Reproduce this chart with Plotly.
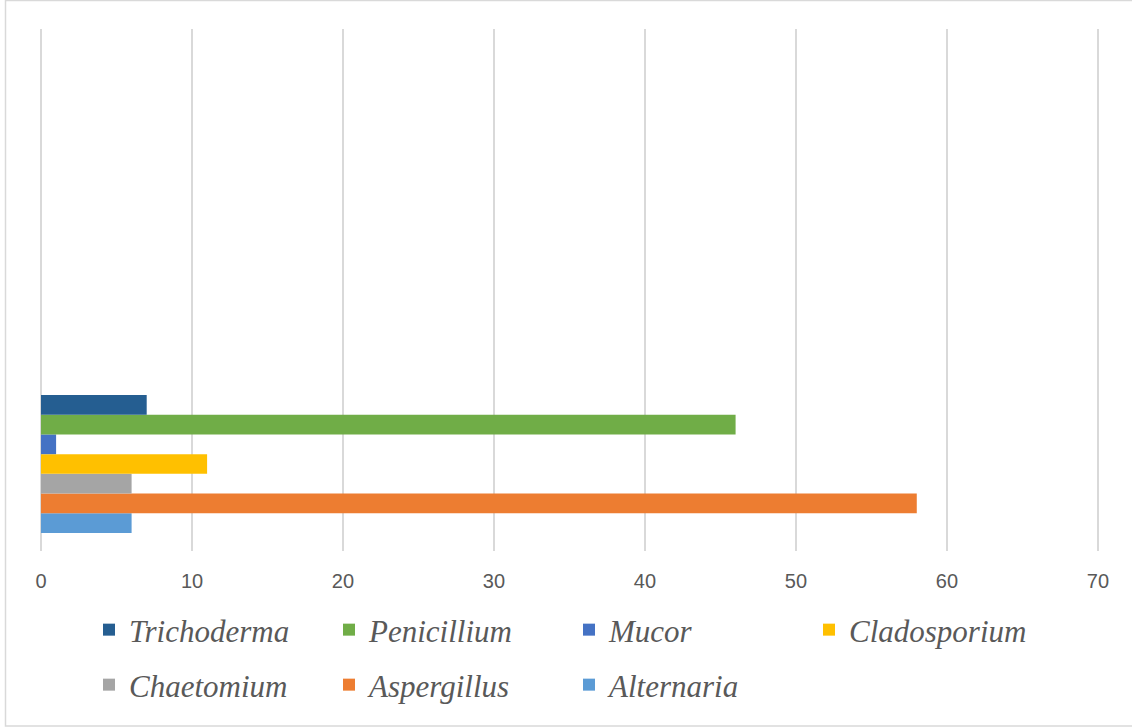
import plotly.graph_objects as go

# Genera isolated and their counts
genera = ["Trichoderma", "Penicillium", "Mucor", "Cladosporium",
          "Chaetomium", "Aspergillus", "Alternaria"]
counts = [7, 46, 1, 11, 6, 58, 6]
colors = ["#255e91", "#70ad47", "#4472c4", "#ffc000",
          "#a5a5a5", "#ed7d31", "#5b9bd5"]
# first legend row holds the first four genera, second row the rest
legend_rows = ["legend", "legend", "legend", "legend",
               "legend2", "legend2", "legend2"]
x_ticks = [0, 10, 20, 30, 40, 50, 60, 70]

W, H = 1132, 727
X_MAX = 70.2           # a touch past 70 so the last gridline is kept
M_L, M_R, M_T, M_B = 41, 31, 29, 176

fig = go.Figure()
# plotly stacks grouped horizontal bars bottom-up, so add them in reverse
for i in reversed(range(len(genera))):
    fig.add_trace(go.Bar(
        y=[0], x=[counts[i]], orientation="h",
        name="<i>" + genera[i] + "</i>",
        marker=dict(color=colors[i], line=dict(width=0)),
        legend=legend_rows[i], legendrank=i + 1,
        hoverinfo="x+name",
    ))

legend_font = dict(family="Liberation Serif", size=31, color="#595959")
common_legend = dict(
    orientation="h", xref="container", yref="container",
    xanchor="left", yanchor="middle", font=legend_font,
    entrywidth=195, entrywidthmode="pixels",
    bgcolor="rgba(0,0,0,0)", traceorder="normal",
)

fig.update_layout(
    width=W, height=H,
    margin=dict(l=M_L, r=M_R, t=M_T, b=M_B, pad=0),
    paper_bgcolor="white", plot_bgcolor="white",
    barmode="group", bargap=0.207, bargroupgap=0,
    showlegend=True,
    legend=dict(x=89 / W, y=1 - 630 / H, **common_legend),
    legend2=dict(x=89 / W, y=1 - 685 / H, **common_legend),
    xaxis=dict(
        range=[0, X_MAX], tickvals=x_ticks, ticks="",
        showgrid=True, gridcolor="#d9d9d9", gridwidth=1.5,
        zeroline=True, zerolinecolor="#d9d9d9", zerolinewidth=1.5,
        showline=False, ticklabelstandoff=16,
        tickfont=dict(family="Liberation Sans", size=20, color="#595959"),
    ),
    yaxis=dict(
        range=[-0.5, 2.5], showticklabels=False, showgrid=False,
        zeroline=False, showline=False, ticks="",
    ),
)

# light outer frame of the chart area
plot_w = W - M_L - M_R
plot_h = H - M_T - M_B
fig.add_shape(
    type="rect", xref="paper", yref="paper", layer="below",
    x0=(5.5 - M_L) / plot_w, x1=(W + 10 - M_L) / plot_w,
    y0=((H - M_B) - 726) / plot_h, y1=((H - M_B) - 0.5) / plot_h,
    line=dict(color="#d9d9d9", width=1.5), fillcolor="rgba(0,0,0,0)",
)

fig.write_html("out.html")
